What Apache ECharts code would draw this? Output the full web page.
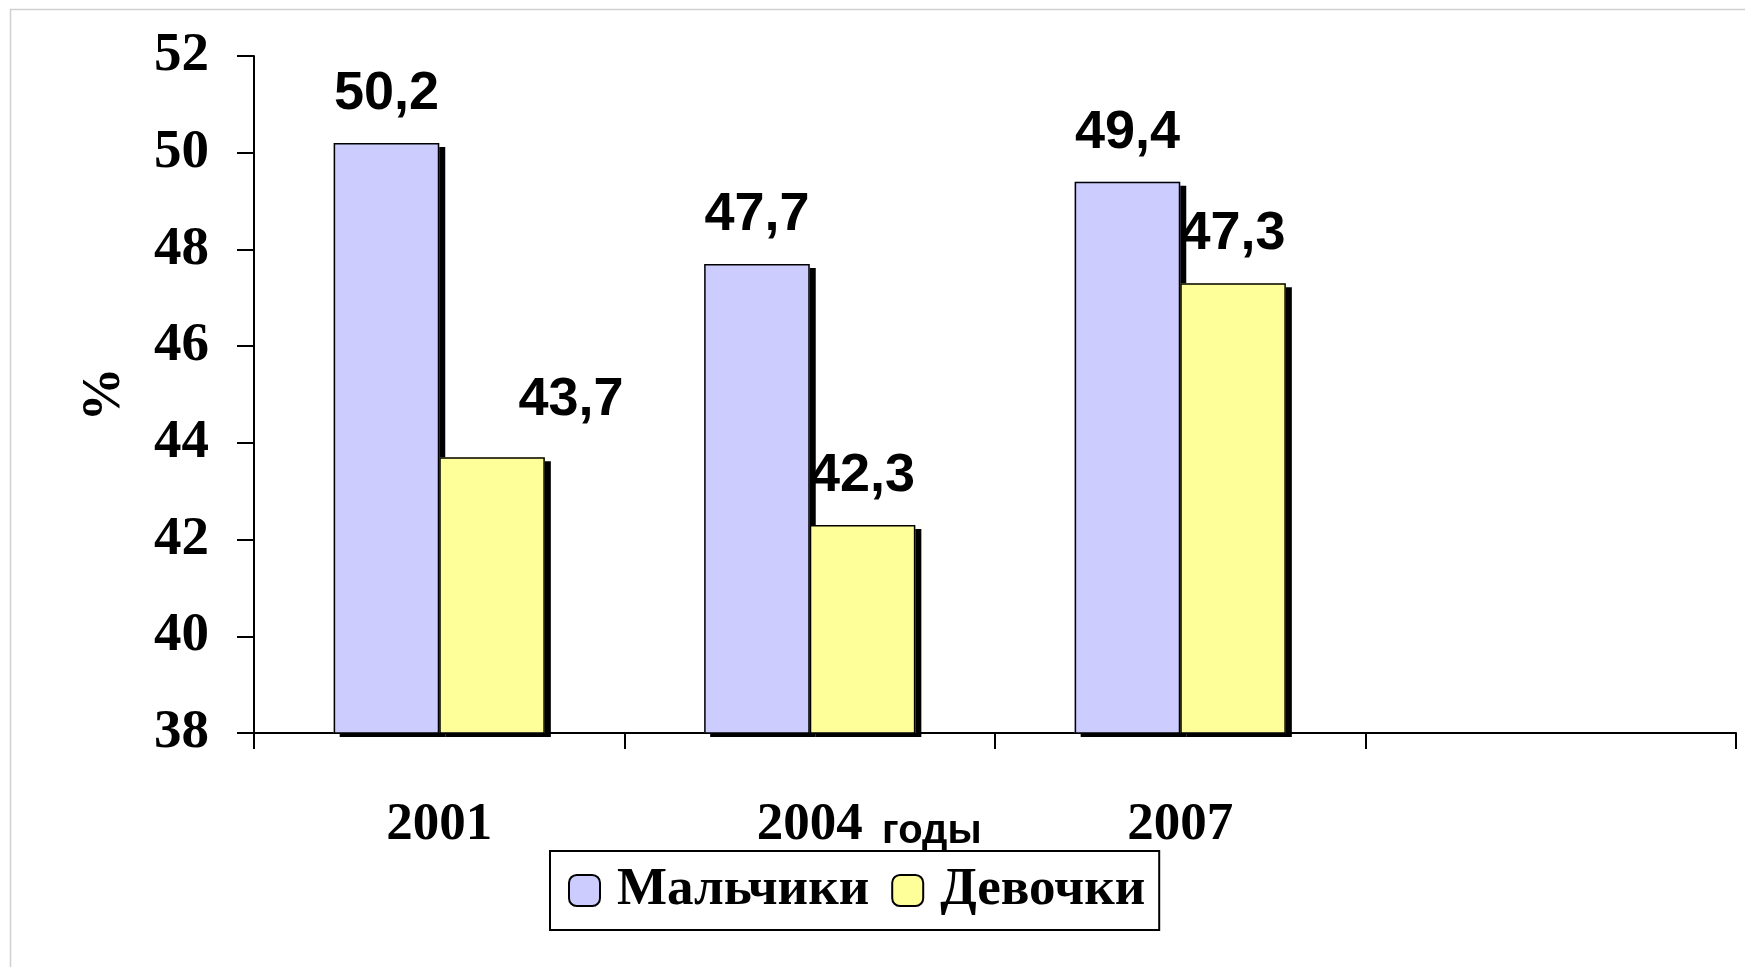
<!DOCTYPE html>
<html><head><meta charset="utf-8">
<script src="https://cdn.jsdelivr.net/npm/echarts@6/dist/echarts.min.js"></script>
<style>html,body{margin:0;padding:0;background:#fff}#c{width:1745px;height:967px}</style>
</head><body><div id="c"></div>
<script>
const categories = ['2001', '2004', '2007', ''];
const boys = [50.2, 47.7, 49.4, null];
const girls = [43.7, 42.3, 47.3, null];
const seriesNames = ['Мальчики', 'Девочки'];
const seriesColors = ['#CCCCFF', '#FFFF99'];
const yTicks = [38, 52, 2];
const yName = '%';
const xName = 'годы';

const serif = '"Liberation Serif", "Times New Roman", serif';
const sans = '"Liberation Sans", Arial, sans-serif';
const fmt = v => String(v.value).replace('.', ',');
const fillStyle = c => ({color: c, borderWidth: 0,
  shadowColor: '#000', shadowOffsetX: 6, shadowOffsetY: 4, shadowBlur: 0});
const outlineStyle = {color: 'rgba(0,0,0,0)', borderColor: '#000', borderWidth: 1.5};
const label = {show: true, position: 'top', distance: 22, formatter: fmt,
  fontFamily: sans, fontWeight: 'bold', fontSize: 54, color: '#000'};
const gapOpts = {barGap: '0%', barCategoryGap: '43%'};

const xAxisBase = {
  type: 'category', data: categories, boundaryGap: true, gridIndex: 0
};

const chart = echarts.init(document.getElementById('c'));
chart.setOption({
  animation: false,
  backgroundColor: '#fff',
  grid: {left: 254, right: 9, top: 56, bottom: 234},
  legend: {
    left: 550, top: 851, padding: [13, 14, 13, 18], itemGap: 22,
    borderColor: '#000', borderWidth: 2, itemWidth: 31, itemHeight: 31,
    icon: 'roundRect',
    textStyle: {fontFamily: serif, fontWeight: 'bold', fontSize: 53, color: '#000', padding: [0, 0, 0, 12]},
    data: seriesNames.map((n, i) => ({name: n,
      itemStyle: {color: seriesColors[i], borderColor: '#000', borderWidth: 2, shadowBlur: 0, shadowOffsetX: 0, shadowOffsetY: 0, shadowColor: 'rgba(0,0,0,0)'}}))
  },
  xAxis: [
    Object.assign({}, xAxisBase, {
      axisLine: {lineStyle: {color: '#000', width: 2}},
      axisTick: {show: true, inside: false, length: 16, lineStyle: {color: '#000', width: 2}},
      axisLabel: {margin: 66, fontFamily: serif, fontWeight: 'bold', fontSize: 53, color: '#000'}
    }),
    Object.assign({}, xAxisBase, {show: false})
  ],
  yAxis: {
    type: 'value', min: yTicks[0], max: yTicks[1], interval: yTicks[2],
    name: yName, nameLocation: 'middle', nameGap: 122,
    nameTextStyle: {fontFamily: serif, fontWeight: 'bold', fontSize: 54, color: '#000'},
    splitLine: {show: false},
    axisLine: {show: true, lineStyle: {color: '#000', width: 2}},
    axisTick: {show: true, length: 17, lineStyle: {color: '#000', width: 2}},
    axisLabel: {margin: 45, fontFamily: serif, fontWeight: 'bold', fontSize: 55, color: '#000', padding: [10, 0, 0, 0]}
  },
  series: [
    Object.assign({name: seriesNames[0], type: 'bar', xAxisIndex: 0, data: boys,
     itemStyle: fillStyle(seriesColors[0]), label: label, z: 2}, gapOpts),
    Object.assign({name: seriesNames[1], type: 'bar', xAxisIndex: 0,
     data: girls.map((v, i) => i === 0 ? {value: v, label: {offset: [79, -8]}} : v),
     itemStyle: fillStyle(seriesColors[1]), label: label, z: 2}, gapOpts),
    Object.assign({name: seriesNames[0] + ' ', type: 'bar', xAxisIndex: 1, data: boys,
     itemStyle: outlineStyle, silent: true, z: 3}, gapOpts),
    Object.assign({name: seriesNames[1] + ' ', type: 'bar', xAxisIndex: 1, data: girls,
     itemStyle: outlineStyle, silent: true, z: 3}, gapOpts)
  ],
  graphic: [
    {type: 'line', shape: {x1: 10, y1: 9.5, x2: 1745, y2: 9.5}, style: {stroke: '#d0d0d0', lineWidth: 1.5}},
    {type: 'line', shape: {x1: 10.5, y1: 9, x2: 10.5, y2: 967}, style: {stroke: '#d0d0d0', lineWidth: 1.5}},
    {type: 'text', left: 882, top: 812, style: {text: xName, fontFamily: sans, fontWeight: 'bold', fontSize: 40, fill: '#000'}}
  ]
});
</script></body></html>
